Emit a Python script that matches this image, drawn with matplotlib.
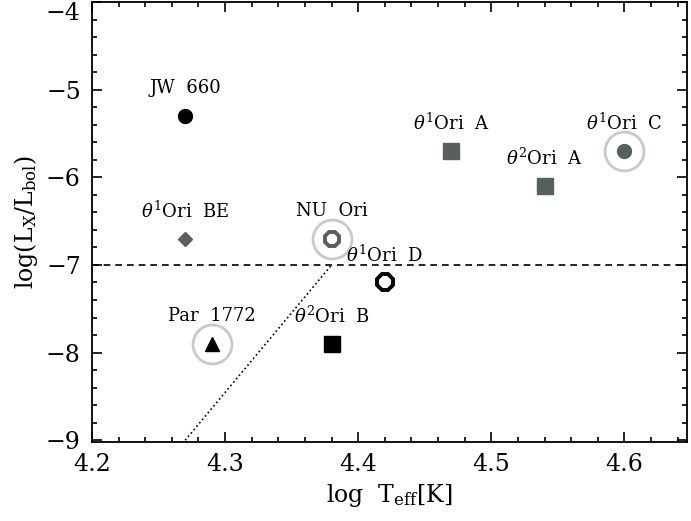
import numpy as np
import matplotlib.pyplot as plt
import matplotlib.ticker as mticker

# stars: log Teff, log(Lx/Lbol)
names = ["JW  660", r"$\theta^1$Ori  BE", "NU  Ori", r"$\theta^1$Ori  D",
         "Par  1772", r"$\theta^2$Ori  B", r"$\theta^1$Ori  A",
         r"$\theta^2$Ori  A", r"$\theta^1$Ori  C"]
logT = [4.27, 4.27, 4.38, 4.42, 4.29, 4.38, 4.47, 4.54, 4.60]
logLx = [-5.3, -6.7, -6.7, -7.2, -7.9, -7.9, -5.7, -6.1, -5.7]
mark = ["o", "D", "8", "8", "^", "s", "s", "s", "o"]
gray = "#575f5f"
col = ["black", gray, gray, "black", "black", "black", gray, gray, gray]
filled = [True, True, False, False, True, True, True, True, True]
msz = [10, 7, 11, 12, 10, 11, 11, 11, 10]
ringed = [False, False, True, False, True, False, False, False, True]

# lines
lim_y = -7.0
dot_x = [4.27, 4.38]
dot_y = [-9.0, -7.0]

plt.rcParams["font.family"] = "DejaVu Serif"
plt.rcParams["mathtext.fontset"] = "dejavuserif"

fig = plt.figure(figsize=(6.91, 5.21), dpi=100)
ax = fig.add_axes([0.1331, 0.1516, 0.8611, 0.8446])

ax.axhline(lim_y, color="black", linestyle=(0, (4, 3)), linewidth=1.2)
ax.plot(dot_x, dot_y, color="black", linestyle=":", linewidth=1.2)

for i in range(len(names)):
    if ringed[i]:
        ax.plot(logT[i], logLx[i], marker="o", ms=28, mfc="none",
                mec="#c5ccc8", mew=2)
    if filled[i]:
        ax.plot(logT[i], logLx[i], marker=mark[i], ms=msz[i], color=col[i],
                mec=col[i])
    else:
        ax.plot(logT[i], logLx[i], marker=mark[i], ms=msz[i], mfc="white",
                mec=col[i], mew=2.8)
    ax.annotate(names[i], (logT[i], logLx[i]), xytext=(0, 20),
                textcoords="offset points", ha="center", va="center",
                fontsize=13)

ax.set_xlim(4.2, 4.647)
ax.set_ylim(-9.02, -4.0)
ax.xaxis.set_major_locator(mticker.MultipleLocator(0.1))
ax.xaxis.set_minor_locator(mticker.MultipleLocator(0.02))
ax.yaxis.set_major_locator(mticker.MultipleLocator(1))
ax.yaxis.set_minor_locator(mticker.MultipleLocator(0.2))
ax.xaxis.set_major_formatter(mticker.FormatStrFormatter("%.1f"))
ax.yaxis.set_major_formatter(mticker.FuncFormatter(lambda v, p: "\u2212%d" % abs(round(v))))
ax.tick_params(which="both", direction="in", top=True, right=True,
               labelsize=17, width=1.2)
ax.tick_params(which="major", length=7, pad=8)
ax.tick_params(which="minor", length=3.5)
for s in ax.spines.values():
    s.set_linewidth(1.3)

ax.set_xlabel(r"log  T$_{\mathrm{eff}}$[K]", fontsize=17)
ax.set_ylabel(r"log(L$_{\mathrm{X}}$/L$_{\mathrm{bol}}$)", fontsize=17)

fig.canvas.draw()
for lab in ax.get_yticklabels():
    if lab.get_text() == "\u22124":
        lab.set_verticalalignment("top")

fig.savefig("out.png", dpi=100)
